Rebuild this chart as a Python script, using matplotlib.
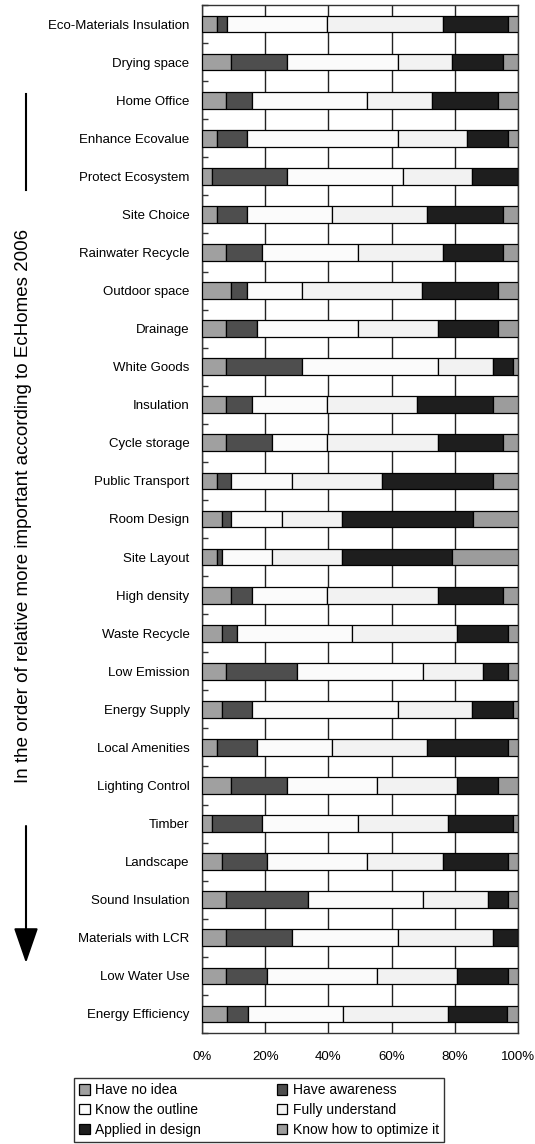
import matplotlib
matplotlib.use("Agg")
import matplotlib.pyplot as plt
from matplotlib.lines import Line2D
import numpy as np

plt.rcParams['font.family'] = ['Liberation Sans', 'DejaVu Sans']

categories = [
    "Eco-Materials Insulation", "Drying space", "Home Office", "Enhance Ecovalue",
    "Protect Ecosystem", "Site Choice", "Rainwater Recycle", "Outdoor space",
    "Drainage", "White Goods", "Insulation", "Cycle storage", "Public Transport",
    "Room Design", "Site Layout", "High density", "Waste Recycle", "Low Emission",
    "Energy Supply", "Local Amenities", "Lighting Control", "Timber", "Landscape",
    "Sound Insulation", "Materials with LCR", "Low Water Use", "Energy Efficiency",
]

have_no_idea = [4.9, 9.3, 7.7, 4.9, 3.3, 4.9, 7.7, 9.3, 7.7, 7.7, 7.7, 7.7, 4.9, 6.4,
                4.9, 9.3, 6.4, 7.7, 6.4, 4.9, 9.3, 3.3, 6.4, 7.7, 7.7, 7.7, 7.8]
have_awareness = [2.9, 17.7, 8.2, 9.4, 23.7, 9.4, 11.4, 5.0, 9.8, 24.1, 8.2, 14.3, 4.4, 2.9,
                  1.5, 6.6, 4.7, 22.5, 9.5, 12.6, 17.6, 15.8, 14.3, 25.7, 20.9, 13.0, 6.6]
know_outline = [31.7, 35.0, 36.3, 47.7, 36.7, 26.8, 30.2, 17.5, 31.8, 42.8, 23.6, 17.5, 19.3, 15.9,
                15.6, 23.6, 36.5, 39.6, 46.1, 23.6, 28.6, 30.2, 31.5, 36.4, 33.4, 34.8, 30.1]
fully_understand = [36.7, 17.1, 20.7, 21.9, 21.8, 30.2, 26.9, 37.9, 25.3, 17.6, 28.6, 35.1, 28.4, 19.2,
                    22.4, 35.1, 33.1, 19.0, 23.5, 30.2, 25.2, 28.6, 24.0, 20.6, 30.2, 25.2, 33.4]
applied_design = [20.5, 16.0, 20.7, 12.8, 14.5, 23.8, 18.9, 23.9, 19.0, 6.3, 24.1, 20.5, 35.2, 41.3,
                  34.8, 20.5, 16.0, 7.9, 13.0, 25.4, 12.9, 20.4, 20.5, 6.3, 7.8, 16.0, 18.7]
know_optimize = [3.3, 4.9, 6.4, 3.3, 0.0, 4.9, 4.9, 6.4, 6.4, 1.5, 7.8, 4.9, 7.8, 14.3,
                 20.8, 4.9, 3.3, 3.3, 1.5, 3.3, 6.4, 1.7, 3.3, 3.3, 0.0, 3.3, 3.4]

series_names = ["Have no idea", "Have awareness", "Know the outline",
                "Fully understand", "Applied in design", "Know how to optimize it"]
series = [have_no_idea, have_awareness, know_outline,
          fully_understand, applied_design, know_optimize]
colors = ["#a0a0a0", "#4e4e4e", "#fbfbfb", "#f2f2f2", "#1e1e1e", "#9c9c9c"]

W, H = 535, 1144
fig = plt.figure(figsize=(W / 100, H / 100), dpi=100)
ax = fig.add_axes([202 / W, 1 - 1033 / H, 316 / W, 1028 / H])

y = np.arange(len(categories))
left = np.zeros(len(categories))
containers = []
for name, vals, col in zip(series_names, series, colors):
    vals = np.array(vals)
    c = ax.barh(y, vals, left=left, height=0.44, color=col, edgecolor="black",
                linewidth=0.9, label=name, zorder=3)
    containers.append(c)
    left += vals

ax.set_xlim(0, 100)
ax.set_ylim(len(categories) - 0.5, -0.5)
ax.set_xticks([0, 20, 40, 60, 80, 100])
ax.set_xticklabels(["0%", "20%", "40%", "60%", "80%", "100%"], fontsize=9.5)
ax.tick_params(axis="x", length=0, pad=13)
ax.set_yticks(y)
ax.set_yticklabels(categories, fontsize=9.5)
ax.tick_params(axis="y", which="major", length=0, pad=9)
ax.set_yticks(np.arange(-0.5, len(categories), 1.0), minor=True)
ax.tick_params(axis="y", which="minor", direction="in", length=4, width=1, color="#333333")
ax.xaxis.grid(True, color="#222222", linewidth=1.0, zorder=0)
for s in ax.spines.values():
    s.set_color("#333333")
    s.set_linewidth(1.0)

# legend laid out row by row in two columns; second column starts at x=277 px
order = [0, 2, 4, 1, 3, 5]
handles = [containers[i] for i in order]
labels = [series_names[i] for i in order]
leg_fs = 10.0
leg_kw = dict(ncol=2, loc="upper left", bbox_to_anchor=(74 / W, 1 - 1078 / H),
              fontsize=leg_fs, frameon=True, fancybox=False, edgecolor="black",
              handlelength=0.75, handleheight=0.75, handletextpad=0.4,
              labelspacing=0.42, borderpad=0.38, borderaxespad=0)


def make_legend(colsp):
    lg = fig.legend(handles, labels, columnspacing=colsp, **leg_kw)
    lg.get_frame().set_linewidth(1.0)
    return lg


colsp = 5.0
leg = make_legend(colsp)
fig.canvas.draw()
renderer = fig.canvas.get_renderer()
x_col2 = leg.legend_handles[3].get_window_extent(renderer).x0
leg.remove()
colsp += (277 - x_col2) / (leg_fs * 100 / 72)
leg = make_legend(colsp)

# vertical title with its bar and arrow
fig.text(24 / W, 1 - 506 / H,
         "In the order of relative more important according to EcHomes 2006",
         rotation=90, ha="center", va="center", fontsize=13.5)
fig.add_artist(Line2D([26 / W, 26 / W], [1 - 94 / H, 1 - 190 / H],
                      color="black", linewidth=1.5))
ax.annotate("", xy=(26, H - 963), xytext=(26, H - 826),
            xycoords="figure pixels", textcoords="figure pixels",
            arrowprops=dict(arrowstyle="-|>,head_width=0.38,head_length=1.1",
                            mutation_scale=20, color="black", lw=1.5,
                            shrinkA=0, shrinkB=0))

fig.savefig("out.png", dpi=100)
